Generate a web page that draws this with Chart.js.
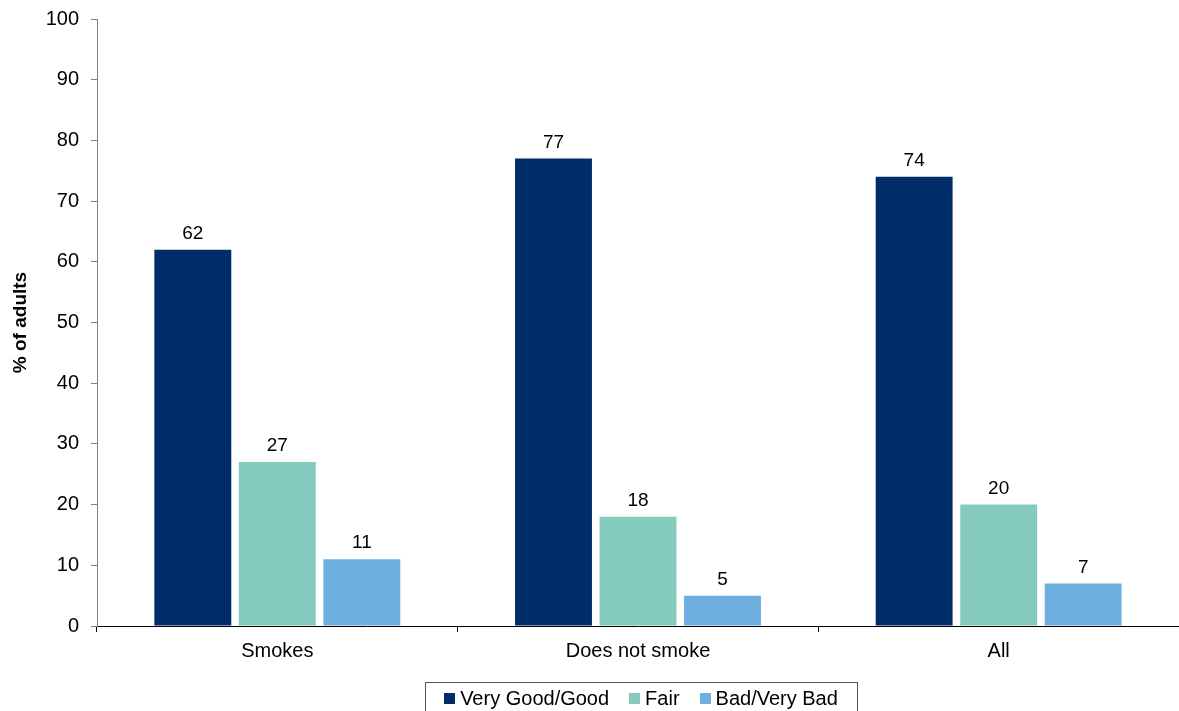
<!DOCTYPE html>
<html>
<head>
<meta charset="utf-8">
<title>Self-reported health by smoking status</title>
<script src="https://cdn.jsdelivr.net/npm/chart.js@4"></script>
<style>
    html, body { margin: 0; padding: 0; background: #fff; }
    #wrap { width: 1179px; height: 711px; }
</style>
</head>
<body>
<div id="wrap"><canvas id="chart" width="1179" height="711"></canvas></div>
<script>
// --- data ---
const categories = ['Smokes', 'Does not smoke', 'All'];
const seriesNames = ['Very Good/Good', 'Fair', 'Bad/Very Bad'];
const veryGoodGood = [62, 77, 74];
const fair = [27, 18, 20];
const badVeryBad = [11, 5, 7];
const yTicks = [0, 10, 20, 30, 40, 50, 60, 70, 80, 90, 100];

const colors = ['#002C69', '#84CBBD', '#6DB0E0'];
const FONT = '"Liberation Sans", Arial, sans-serif';

// value labels above each bar
const barLabels = {
    id: 'barLabels',
    afterDatasetsDraw(chart) {
        const ctx = chart.ctx;
        ctx.save();
        ctx.font = '19px ' + FONT;
        ctx.fillStyle = '#000';
        ctx.textAlign = 'center';
        ctx.textBaseline = 'alphabetic';
        chart.data.datasets.forEach((ds, i) => {
            chart.getDatasetMeta(i).data.forEach((bar, j) => {
                ctx.fillText(String(ds.data[j]), bar.x, bar.y - 11);
            });
        });
        ctx.restore();
    }
};

// boxed legend under the axis
const boxLegend = {
    id: 'boxLegend',
    afterDraw(chart) {
        const ctx = chart.ctx;
        const area = chart.chartArea;
        const sq = 11, gapText = 5, gapItem = 20;
        ctx.save();
        ctx.font = '20px ' + FONT;
        const items = chart.data.datasets.map(ds => ({
            label: ds.label,
            color: ds.backgroundColor,
            w: ctx.measureText(ds.label).width
        }));
        let total = 0;
        items.forEach((it, i) => {
            total += sq + gapText + it.w + (i < items.length - 1 ? gapItem : 0);
        });
        const cx = (area.left + area.right) / 2 + 3;
        const boxW = 432;
        const boxTop = 682;
        ctx.strokeStyle = '#555';
        ctx.lineWidth = 1;
        ctx.strokeRect(Math.round(cx - boxW / 2) + 0.5, boxTop + 0.5, boxW, 60);

        let x = cx - total / 2;
        const cy = 698;
        ctx.textBaseline = 'middle';
        ctx.textAlign = 'left';
        items.forEach(it => {
            ctx.fillStyle = it.color;
            ctx.fillRect(Math.round(x), cy - 5, sq, sq);
            x += sq + gapText;
            ctx.fillStyle = '#000';
            ctx.fillText(it.label, x, cy + 1);
            x += it.w + gapItem;
        });
        ctx.restore();
    }
};

const seriesValues = [veryGoodGood, fair, badVeryBad];

new Chart(document.getElementById('chart'), {
    type: 'bar',
    data: {
        labels: categories,
        datasets: seriesNames.map((name, i) => ({
            label: name,
            data: seriesValues[i],
            backgroundColor: colors[i],
            borderWidth: 0,
            categoryPercentage: 0.703,
            barPercentage: 0.91
        }))
    },
    options: {
        responsive: false,
        devicePixelRatio: 1,
        animation: false,
        layout: { padding: { top: 19, right: 0, bottom: 0, left: 0 } },
        plugins: {
            legend: { display: false },
            tooltip: { enabled: false }
        },
        scales: {
            x: {
                grid: {
                    offset: true,
                    drawOnChartArea: false,
                    tickLength: 6,
                    color: '#000'
                },
                border: { color: '#000', width: 1 },
                ticks: {
                    color: '#000',
                    padding: 7,
                    font: { family: FONT, size: 20 }
                },
                afterFit(scale) {
                    scale.height = 85;
                    scale.paddingLeft = 0;
                    scale.paddingRight = 0;
                }
            },
            y: {
                min: 0,
                max: 100,
                afterBuildTicks(scale) {
                    scale.ticks = yTicks.map(v => ({ value: v }));
                },
                grid: {
                    drawOnChartArea: false,
                    tickLength: 6,
                    color: '#808080'
                },
                border: { color: '#808080', width: 1 },
                ticks: {
                    color: '#000',
                    padding: 12,
                    font: { family: FONT, size: 20 }
                },
                title: {
                    display: true,
                    text: '% of adults',
                    color: '#000',
                    padding: 9,
                    font: { family: FONT, size: 19, weight: 'bold' }
                },
                afterFit(scale) {
                    scale.width = 97;
                    scale.paddingTop = 0;
                    scale.paddingBottom = 0;
                }
            }
        }
    },
    plugins: [barLabels, boxLegend]
});
</script>
</body>
</html>
